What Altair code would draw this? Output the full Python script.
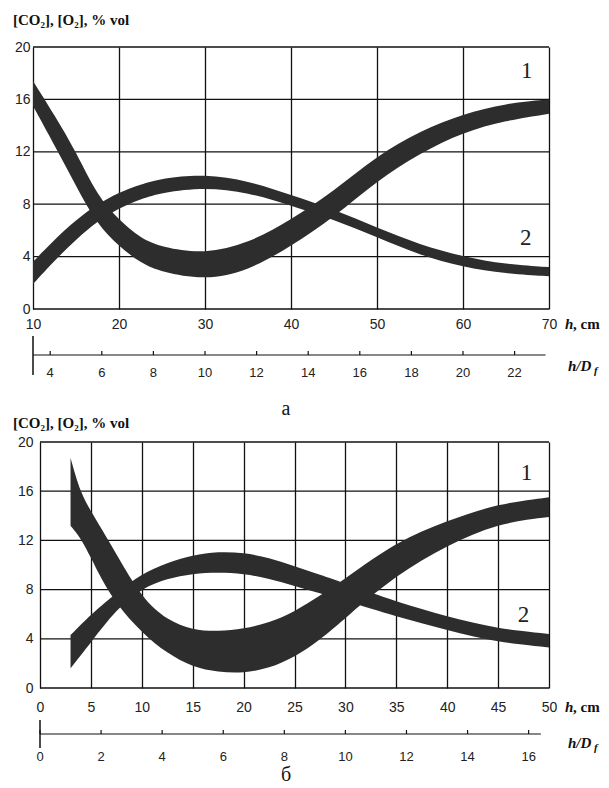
import altair as alt
import pandas as pd

D_F = 3  # cm : h / D_f conversion factor

# ---------------- panel а ----------------
A_H = [10, 12.5, 15, 17.5, 20, 22.5, 25, 30, 35, 40, 45, 50, 55, 60, 65, 70]
A1_HI = [17.4, 14.8, 12.0, 8.6, 6.8, 5.4, 4.7, 4.2, 5.0, 6.8, 9.0, 11.7, 13.6, 14.9, 15.7, 16.0]
A1_LO = [15.5, 12.5, 9.4, 6.4, 4.8, 3.5, 2.8, 2.2, 2.9, 4.8, 7.0, 9.8, 11.9, 13.5, 14.4, 14.9]
A2_HI = [3.6, 5.3, 6.8, 8.0, 8.9, 9.5, 10.0, 10.3, 9.8, 8.7, 7.6, 6.2, 4.9, 4.0, 3.4, 3.2]
A2_LO = [1.9, 3.7, 5.3, 6.7, 7.7, 8.4, 8.9, 9.3, 8.9, 7.9, 6.8, 5.5, 4.1, 3.2, 2.7, 2.5]
A_XTICKS = [10, 20, 30, 40, 50, 60, 70]
A_HD_TICKS = [4, 6, 8, 10, 12, 14, 16, 18, 20, 22]
A_HD_LINE = [10 / 3, 23.2]
A_LBL_TEXT = ["1", "2"]
A_LBL_H = [67.4, 67.3]
A_LBL_V = [18.2, 5.4]

# ---------------- panel б ----------------
B1_H = [3, 4, 5, 6, 7.5, 10, 12.5, 15, 17.5, 20, 22.5, 25, 27.5, 30, 35, 40, 45, 50]
B1_HI = [18.7, 15.8, 14.4, 13.0, 10.9, 7.3, 5.5, 4.7, 4.6, 4.8, 5.3, 6.2, 7.5, 8.9, 11.9, 13.6, 15.0, 15.5]
B1_LO = [13.2, 12.2, 10.6, 8.9, 6.8, 4.5, 2.8, 1.7, 1.3, 1.2, 1.6, 2.5, 3.9, 5.7, 9.2, 11.6, 13.4, 13.9]
B2_H = [3, 5, 7.5, 10, 12.5, 15, 17.5, 20, 22.5, 25, 27.5, 30, 35, 40, 45, 50]
B2_HI = [4.3, 6.0, 7.7, 9.3, 10.2, 10.8, 11.1, 11.0, 10.6, 9.9, 9.2, 8.5, 7.0, 5.8, 4.8, 4.4]
B2_LO = [1.6, 3.7, 6.4, 8.1, 8.9, 9.3, 9.4, 9.3, 8.9, 8.3, 7.7, 7.1, 5.8, 4.7, 3.7, 3.3]
B_XTICKS = [0, 5, 10, 15, 20, 25, 30, 35, 40, 45, 50]
B_HD_TICKS = [0, 2, 4, 6, 8, 10, 12, 14, 16]
B_HD_LINE = [0, 16.4]
B_LBL_TEXT = ["1", "2"]
B_LBL_H = [47.8, 47.5]
B_LBL_V = [17.5, 5.9]

Y_TICKS = [0, 4, 8, 12, 16, 20]
TITLE = "[CO\u2082], [O\u2082], % vol"

SANS = "Liberation Sans"
SERIF = "Liberation Serif"
BAND = "#2d2d2d"
GRID = "#111"
GW = 1.3
LEFT = 33  # common left extent of both panels


def one(**kw):
    return pd.DataFrame([kw])


def panel(curves, xdom, xticks, hd_ticks, hd_line, lbl, W, H, x0, lay, captions=()):
    # x0: left inset of the plotting frame inside the panel
    xs = alt.Scale(domain=xdom, nice=False, zero=False, range=[x0, W])
    ys = alt.Scale(domain=[0, 20], nice=False)
    xax = alt.Axis(
        values=xticks, grid=True, gridColor=GRID, gridWidth=GW, gridOpacity=1,
        domain=False, ticks=False, title=None, labelFont=SANS, labelFontSize=14,
        labelColor="#222", labelPadding=lay["xpad"], labelFlush=False)
    yax = alt.Axis(
        values=Y_TICKS, grid=False, domain=False, ticks=False, title=None,
        labelFont=SANS, labelFontSize=14, labelColor="#222", labelPadding=lay["ypad"],
        minExtent=LEFT, maxExtent=LEFT)

    def X(f):
        return alt.X(f, scale=xs, axis=xax, title=None)

    def Y(f):
        return alt.Y(f, scale=ys, axis=yax, title=None)

    layers = []
    # horizontal grid lines, limited to the frame
    gdf = pd.DataFrame({"v": Y_TICKS})
    layers.append(alt.Chart(gdf).mark_rule(color=GRID, strokeWidth=GW).encode(
        y=Y("v:Q"), x=alt.value(x0), x2=alt.value(W)))

    for h, hi, lo in curves:
        df = pd.DataFrame({"h": h, "v": hi, "lo": lo})
        layers.append(alt.Chart(df).mark_area(
            color=BAND, interpolate="basis").encode(
            x=X("h:Q"), y=Y("v:Q"), y2="lo:Q"))

    # curve numbers
    ldf = pd.DataFrame({"h": lbl[1], "v": lbl[2], "t": lbl[0]})
    layers.append(alt.Chart(ldf).mark_text(font=SERIF, fontSize=23, color="#222").encode(
        x=X("h:Q"), y=Y("v:Q"), text="t:N"))

    # secondary h/D_f axis
    line_y = lay["line_y"]
    ldata = pd.DataFrame({"hd0": [hd_line[0]], "hd1": [hd_line[1]]})
    base_line = alt.Chart(ldata).transform_calculate(
        h=f"datum.hd0 * {D_F}", h1=f"datum.hd1 * {D_F}")
    layers.append(base_line.mark_rule(color="#111", strokeWidth=1.2).encode(
        x=X("h:Q"), x2="h1:Q", y=alt.value(line_y)))
    layers.append(base_line.mark_rule(color="#111", strokeWidth=1.5).encode(
        x=X("h:Q"), y=alt.value(lay["bar_y0"]), y2=alt.value(lay["bar_y1"])))
    tdata = pd.DataFrame({"hd": hd_ticks})
    base_t = alt.Chart(tdata).transform_calculate(h=f"datum.hd * {D_F}")
    layers.append(base_t.mark_rule(color="#111", strokeWidth=1.2).encode(
        x=X("h:Q"), y=alt.value(line_y - 4), y2=alt.value(line_y)))
    layers.append(base_t.mark_text(font=SANS, fontSize=13, color="#222", baseline="middle").encode(
        x=X("h:Q"), y=alt.value(lay["hd_lbl_y"]), text="hd:Q"))

    # texts
    def txt(t, x, y, size, weight="normal", style="normal", align="left", font=SERIF):
        return alt.Chart(one(t=t)).mark_text(
            font=font, fontSize=size, fontWeight=weight, fontStyle=style, align=align,
            baseline="middle", color="#111").encode(
            x=alt.value(x), y=alt.value(y), text="t:N")

    layers.append(txt(TITLE, -20, lay["title_y"], 15, weight="bold"))
    layers.append(txt("h", W + 16, lay["hcm_y"], 15, weight="bold", style="italic"))
    layers.append(txt(", cm", W + 24, lay["hcm_y"], 15, weight="bold"))
    layers.append(txt("h/D", W + 19, lay["hd_y"], 15, weight="bold", style="italic"))
    layers.append(txt("f", W + 45, lay["hd_y"] + 5, 11, weight="bold", style="italic"))
    for c in captions:
        layers.append(txt(c[0], c[1], c[2], 20, align="center"))

    # invisible anchor fixing the panel's vertical extent
    layers.append(alt.Chart(one(a=0)).mark_rule(opacity=0, strokeWidth=0).encode(
        x=alt.value(-LEFT), x2=alt.value(-LEFT), y=alt.value(lay["top"]),
        y2=alt.value(lay["bottom"])))

    return alt.layer(*layers).properties(width=W, height=H)


top = panel(
    [(A_H, A1_HI, A1_LO), (A_H, A2_HI, A2_LO)],
    [10, 70], A_XTICKS, A_HD_TICKS, A_HD_LINE, (A_LBL_TEXT, A_LBL_H, A_LBL_V),
    516, 262, 0,
    dict(xpad=8, ypad=3, line_y=308, bar_y0=289, bar_y1=328, hd_lbl_y=326,
         title_y=-27, hcm_y=277, hd_y=319, top=-47, bottom=348),
)

bottom = panel(
    [(B1_H, B1_HI, B1_LO), (B2_H, B2_HI, B2_LO)],
    [0, 50], B_XTICKS, B_HD_TICKS, B_HD_LINE, (B_LBL_TEXT, B_LBL_H, B_LBL_V),
    516, 246, 7,
    dict(xpad=12, ypad=0, line_y=292, bar_y0=278, bar_y1=306, hd_lbl_y=315,
         title_y=-19, hcm_y=265, hd_y=301, top=-47, bottom=346),
    captions=[("\u0430", 253, -33), ("\u0431", 253, 333)],
)

chart = alt.vconcat(top, bottom, spacing=0).properties(
    padding=0, background="white"
).configure_view(strokeWidth=0)

chart.save("out.html", embed_options={"renderer": "svg", "actions": False})
